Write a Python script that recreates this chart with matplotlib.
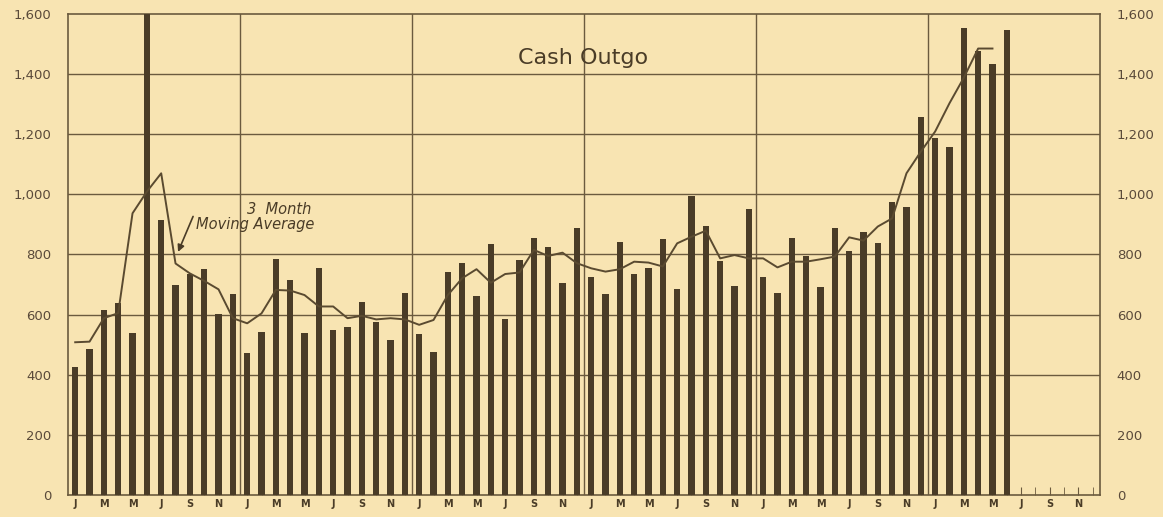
"""
Cash Outgo: monthly bars with a 3 month moving average (six years of months).
"""

import matplotlib

matplotlib.use("Agg")
import matplotlib.pyplot as plt
import numpy as np

# monthly cash outgo, Jan of year 1 onward (year 6 stops at June)
outgo_y1 = [425, 485, 615, 640, 540, 1700, 913, 699, 735, 751, 602, 669]
outgo_y2 = [471, 543, 784, 715, 540, 756, 549, 558, 643, 577, 516, 673]
outgo_y3 = [535, 477, 743, 771, 663, 834, 584, 782, 854, 826, 704, 889]
outgo_y4 = [726, 668, 841, 735, 754, 851, 684, 995, 895, 778, 696, 950]
outgo_y5 = [726, 673, 854, 795, 693, 887, 810, 874, 837, 974, 957, 1256]
outgo_y6 = [1187, 1157, 1553, 1477, 1432, 1546]

# 3 month moving average as drawn (ends one month before the last bar)
avg_y1 = [508, 510, 588, 605, 937, 1009, 1070, 770, 737, 712, 684, 588]
avg_y2 = [571, 604, 682, 680, 665, 627, 627, 588, 596, 584, 588, 584]
avg_y3 = [566, 582, 665, 721, 751, 706, 735, 740, 815, 795, 806, 771]
avg_y4 = [754, 743, 751, 776, 773, 760, 837, 859, 879, 787, 798, 787]
avg_y5 = [787, 757, 776, 776, 784, 793, 857, 846, 893, 920, 1070, 1142]
avg_y6 = [1209, 1303, 1388, 1485, 1485]

n_years = 6
month_labels = ["J", "M", "M", "J", "S", "N"]
y_ticks = [0, 200, 400, 600, 800, 1000, 1200, 1400, 1600]
y_tick_labels = ["0", "200", "400", "600", "800", "1,000", "1,200", "1,400", "1,600"]

PAPER = "#f8e4b2"
INK = "#4a3c27"
GRID = "#6b5a3e"


def main() -> None:
    outgo = np.array(outgo_y1 + outgo_y2 + outgo_y3 + outgo_y4 + outgo_y5 + outgo_y6)
    moving = np.array(avg_y1 + avg_y2 + avg_y3 + avg_y4 + avg_y5 + avg_y6)
    n_months = 12 * n_years

    fig = plt.figure(figsize=(11.63, 5.17), dpi=100, facecolor=PAPER)
    ax = fig.add_axes([0.0585, 0.0426, 0.8873, 0.9304], facecolor=PAPER)

    # grid first so bars sit over it
    for v in y_ticks[1:-1]:
        ax.axhline(v, color=GRID, lw=1.0, zorder=1)
    for yr in range(1, n_years):
        ax.axvline(12 * yr - 0.5, color=GRID, lw=1.0, zorder=1)

    ax.bar(np.arange(len(outgo)), outgo, width=0.46, color=INK, zorder=3)
    ax.plot(np.arange(len(moving)), moving, color="#5a4a30", lw=1.4, zorder=4)

    ax.set_xlim(-0.5, n_months - 0.5)
    ax.set_ylim(0, 1600)

    # axes frame
    for side in ["left", "right", "top", "bottom"]:
        ax.spines[side].set_color(GRID)
        ax.spines[side].set_linewidth(1.2)

    # month ticks
    ax.set_xticks(np.arange(0, n_months, 2))
    ax.set_xticklabels(month_labels * n_years, fontsize=7, fontweight="bold", color=INK)
    ax.set_xticks(np.arange(n_months), minor=True)
    ax.tick_params(axis="x", which="both", direction="in", length=6, color=GRID, pad=3)

    ax.set_yticks(y_ticks)
    ax.set_yticklabels(y_tick_labels, fontsize=9.5, color="#5a4a3a")
    ax.tick_params(axis="y", length=0, pad=12, labelright=True, right=False)

    ax.text(35.4, 1455, "Cash Outgo", ha="center", va="center",
            fontsize=16, color=INK)
    ax.text(14.2, 948, "3  Month", ha="center", va="center",
            fontsize=10.5, style="italic", color=INK)
    ax.text(8.4, 900, "Moving Average", ha="left", va="center",
            fontsize=10.5, style="italic", color=INK)
    ax.annotate("", xy=(7.1, 800), xytext=(8.3, 935),
                arrowprops=dict(arrowstyle="-|>", color=INK, lw=1.2,
                                mutation_scale=10))

    fig.savefig("out.png", dpi=100, facecolor=PAPER)


if __name__ == "__main__":
    main()
